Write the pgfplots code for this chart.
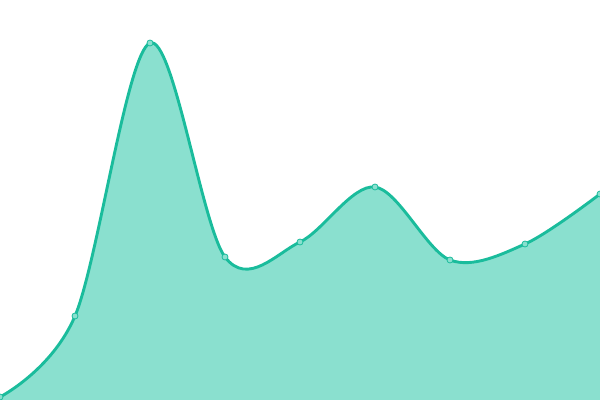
\documentclass[border=0pt]{standalone}
\usepackage{pgfplots}
\pgfplotsset{compat=1.18}
\definecolor{linec}{HTML}{1ABC9C}
\definecolor{areac}{HTML}{8AE0CF}
\begin{document}
\begin{tikzpicture}
\begin{axis}[
    width=600bp, height=400bp,
    scale only axis,
    hide axis,
    xmin=0, xmax=8,
    ymin=0, ymax=400,
    clip=true,
    clip marker paths=true,
]
\addplot[smooth, tension=0.55, draw=none, fill=areac]
    coordinates {(0,3) (1,84) (2,357) (3,143) (4,158) (5,213) (6,140) (7,156) (8,206)}
    \closedcycle;
\addplot[smooth, tension=0.55, draw=linec, line width=2.9bp,
    mark=*, mark size=3bp,
    mark options={fill=areac, draw=linec, line width=0.8bp}]
    coordinates {(0,3) (1,84) (2,357) (3,143) (4,158) (5,213) (6,140) (7,156) (8,206)};
\end{axis}
\pgfresetboundingbox
\useasboundingbox (0,0) rectangle (600bp,400bp);
\end{tikzpicture}
\end{document}
